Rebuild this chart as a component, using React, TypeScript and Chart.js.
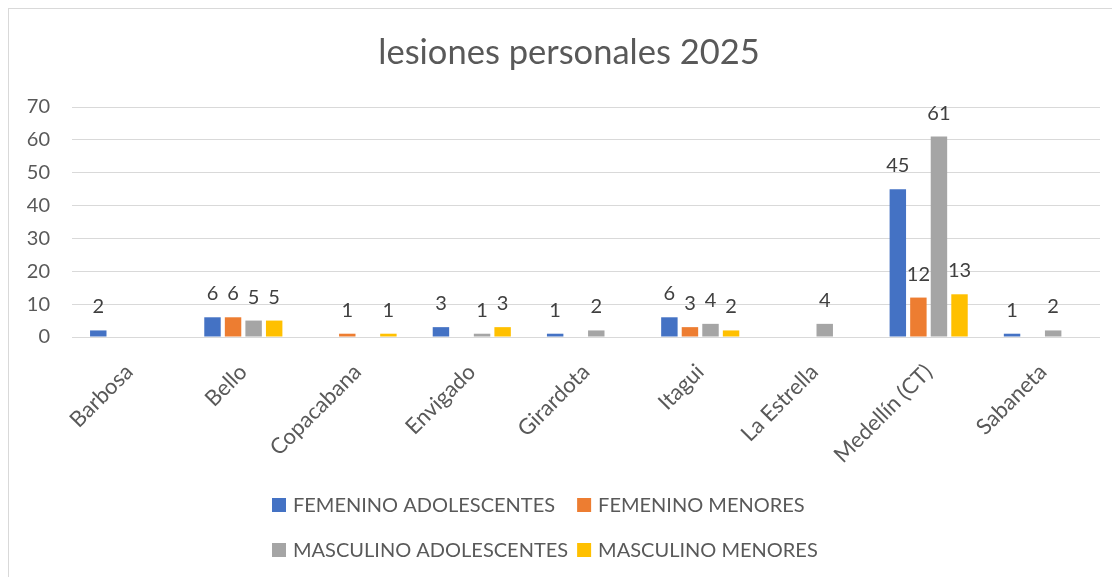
import React, { useEffect, useRef } from 'react';
import { Chart, registerables } from 'chart.js';

Chart.register(...registerables);

const chartTitle = 'lesiones personales 2025';
const categories = ['Barbosa', 'Bello', 'Copacabana', 'Envigado', 'Girardota', 'Itagui', 'La Estrella', 'Medellín (CT)', 'Sabaneta'];
const seriesNames = ['FEMENINO ADOLESCENTES', 'FEMENINO MENORES', 'MASCULINO ADOLESCENTES', 'MASCULINO MENORES'];
const femeninoAdolescentes = [2, 6, null, 3, 1, 6, null, 45, 1];
const femeninoMenores = [null, 6, 1, null, null, 3, null, 12, null];
const masculinoAdolescentes = [null, 5, null, 1, 2, 4, 4, 61, 2];
const masculinoMenores = [null, 5, 1, 3, null, 2, null, 13, null];
const seriesColors = ['#4472C4', '#ED7D31', '#A5A5A5', '#FFC000'];
const yMin = 0;
const yMax = 70;
const yStep = 10;

const FONT = 'Lato, "Open Sans", sans-serif';

const titlePlugin = {
  id: 'excelTitle',
  afterDraw(chart: any) {
    const ctx = chart.ctx;
    ctx.save();
    ctx.font = `34.5px ${FONT}`;
    ctx.fillStyle = '#595959';
    ctx.textAlign = 'center';
    ctx.textBaseline = 'alphabetic';
    ctx.fillText(chartTitle, 560, 55);
    ctx.restore();
  },
};

const dataLabelPlugin = {
  id: 'excelDataLabels',
  afterDatasetsDraw(chart: any) {
    const ctx = chart.ctx;
    ctx.save();
    ctx.font = `20px ${FONT}`;
    ctx.fillStyle = '#404040';
    ctx.textAlign = 'center';
    ctx.textBaseline = 'alphabetic';
    chart.data.datasets.forEach((ds: any, i: number) => {
      const meta = chart.getDatasetMeta(i);
      meta.data.forEach((el: any, j: number) => {
        const v = ds.data[j];
        if (v === null || v === undefined) return;
        ctx.fillText(String(v), el.x, el.y - 17);
      });
    });
    ctx.restore();
  },
};

const legendPlugin = {
  id: 'excelLegend',
  afterDraw(chart: any) {
    const ctx = chart.ctx;
    ctx.save();
    ctx.font = `20px ${FONT}`;
    const ds = chart.data.datasets;
    const cols = 2;
    const box = 14;
    const gap = 7;
    const colGap = 9;
    const colWidths = [0, 0];
    ds.forEach((d: any, i: number) => {
      const w = box + gap + ctx.measureText(d.label).width;
      colWidths[i % cols] = Math.max(colWidths[i % cols], w);
    });
    const x0 = 263;
    const rowY = [496, 541];
    ds.forEach((d: any, i: number) => {
      const c = i % cols;
      const r = Math.floor(i / cols);
      const x = x0 + (c === 0 ? 0 : colWidths[0] + colGap);
      const y = rowY[r];
      ctx.fillStyle = d.backgroundColor;
      ctx.fillRect(x, y - 7, box, box);
      ctx.fillStyle = '#595959';
      ctx.textAlign = 'left';
      ctx.textBaseline = 'middle';
      ctx.fillText(d.label, x + box + gap, y + 1);
    });
    ctx.restore();
  },
};

export default function App() {
  const canvasRef = useRef<HTMLCanvasElement | null>(null);

  useEffect(() => {
    document.body.style.overflow = 'hidden';
    const canvas = canvasRef.current;
    if (!canvas) return;
    const seriesValues = [femeninoAdolescentes, femeninoMenores, masculinoAdolescentes, masculinoMenores];
    const chart = new Chart(canvas, {
      type: 'bar',
      data: {
        labels: categories,
        datasets: seriesNames.map((name, i) => ({
          label: name,
          data: seriesValues[i],
          backgroundColor: seriesColors[i],
          borderWidth: 0,
          categoryPercentage: 0.72,
          barPercentage: 0.8,
        })),
      },
      options: {
        animation: false,
        responsive: true,
        maintainAspectRatio: false,
        layout: { padding: { top: 98, right: 20, left: 0, bottom: 0 } },
        plugins: {
          legend: { display: false },
          title: { display: false },
          tooltip: { enabled: false },
        },
        scales: {
          x: {
            grid: { display: false, drawTicks: false },
            border: { display: false },
            ticks: {
              color: '#595959',
              font: { family: FONT, size: 22 },
              maxRotation: 45,
              minRotation: 45,
              autoSkip: false,
              padding: 22,
            },
            afterFit: (scale: any) => {
              scale.height = 240;
            },
          },
          y: {
            min: yMin,
            max: yMax,
            grid: { color: '#d9d9d9', lineWidth: 1, drawTicks: false },
            border: { display: false },
            ticks: {
              stepSize: yStep,
              color: '#595959',
              font: { family: FONT, size: 20 },
              padding: 22,
            },
            afterFit: (scale: any) => {
              scale.width = 63;
            },
          },
        },
      },
      plugins: [titlePlugin, dataLabelPlugin, legendPlugin],
    });
    return () => chart.destroy();
  }, []);

  return (
    <div
      style={{
        position: 'relative',
        width: '1111px',
        height: '568px',
        borderTop: '1px solid #d9d9d9',
        borderLeft: '1px solid #d9d9d9',
        background: '#ffffff',
      }}
    >
      <canvas ref={canvasRef} />
    </div>
  );
}
